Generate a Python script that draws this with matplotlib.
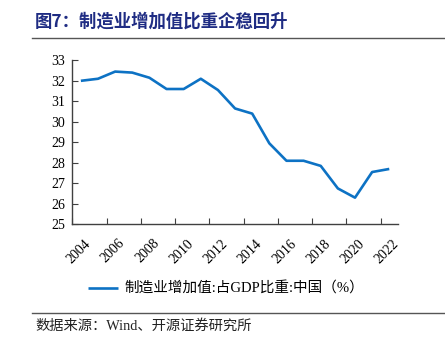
import matplotlib.pyplot as plt
import matplotlib.transforms as mtransforms
import numpy as np

years = [str(y) for y in range(2004, 2023)]
share = [32.0, 32.1, 32.45, 32.4, 32.15, 31.6, 31.6, 32.1, 31.55, 30.65,
         30.4, 28.95, 28.1, 28.1, 27.85, 26.75, 26.3, 27.55, 27.7]
y_ticks = list(range(25, 34))

cjk = ['Liberation Serif', 'Noto Sans CJK SC']

fig = plt.figure(figsize=(4.45, 3.46), dpi=100)
ax = fig.add_axes([0.1625, 0.3517, 0.7315, 0.474])

x = np.arange(len(years))
line, = ax.plot(x, share, color='#0D72C4', lw=1.9, solid_joinstyle='round',
                solid_capstyle='butt')

ax.set_xlim(-0.5, len(years) - 0.5)
ax.set_ylim(25, 33)
ax.set_yticks(y_ticks)
ax.set_yticklabels([str(v) for v in y_ticks], family='Liberation Serif', fontsize=10)

# category axis: ticks on boundaries every 2 categories, labels centred on categories
ax.set_xticks(np.arange(-0.5, len(years) - 1, 2))
ax.set_xticklabels([])
ax.set_xticks(x[::2], minor=True)
ax.set_xticklabels(years[::2], minor=True, rotation=45, ha='right', va='top',
                   rotation_mode='anchor', family='Liberation Serif', fontsize=10)
ax.tick_params(axis='x', which='minor', length=0, pad=9)
ax.tick_params(axis='x', which='major', direction='in', length=4, color='#404040')
ax.tick_params(axis='y', direction='in', length=4, color='#404040', pad=5)
shift = mtransforms.ScaledTranslation(3 / 100, 0, fig.dpi_scale_trans)
for lbl in ax.get_xticklabels(minor=True):
    lbl.set_transform(lbl.get_transform() + shift)

for s in ['top', 'right']:
    ax.spines[s].set_visible(False)
for s in ['left', 'bottom']:
    ax.spines[s].set_color('#404040')
    ax.spines[s].set_linewidth(1.0)

fig.legend([line], ['制造业增加值:占GDP比重:中国（%）'], loc='center',
           bbox_to_anchor=(0.508, 1 - 289 / 346), frameon=False,
           prop={'family': cjk, 'size': 10.5}, handlelength=2.05, handletextpad=0.4)

fig.text(35 / 445, 1 - 22 / 346, '图7：制造业增加值比重企稳回升', family='Noto Sans CJK SC',
         fontweight='bold', fontsize=12.5, color='#1F2C83', va='center', ha='left')
fig.add_artist(plt.Line2D([32 / 445, 1], [1 - 38 / 346] * 2, color='#555555', lw=1.0))
fig.add_artist(plt.Line2D([32 / 445, 1], [1 - 313 / 346] * 2, color='#555555', lw=1.0))
fig.text(35 / 445, 1 - 326 / 346, '数据来源：Wind、开源证券研究所', family=cjk,
         fontsize=10.3, color='#222222', va='center', ha='left')

fig.savefig('out.png', dpi=100)
